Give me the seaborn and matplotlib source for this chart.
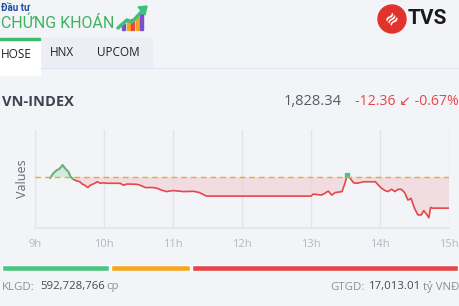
import numpy as np
import pandas as pd
import matplotlib
matplotlib.use("Agg")
import matplotlib.pyplot as plt
import matplotlib.patches as mpatches
import seaborn as sns

# intraday VN-INDEX, minutes after 9:00
minutes = [13, 16, 19, 21, 24, 26, 29, 31, 33, 36, 39, 41, 43, 46, 48, 52, 54, 57, 59, 62,
           74, 77, 80, 88, 91, 96, 103, 106, 110, 114, 120, 129, 138, 143, 149, 170,
           240, 242, 249, 252, 255, 258, 261, 267, 269.5, 271.6, 274, 277, 280, 286, 291,
           296, 298.5, 301.4, 304.3, 307, 310, 313, 315.6, 318.5, 321.4, 324.3, 327, 330,
           333, 336, 338, 340, 342.5, 344, 345.5, 360]
values = [1840.2, 1842.2, 1843.5, 1843.8, 1845.5, 1844.2, 1842.8, 1840.8, 1839.8, 1839.2,
          1838.8, 1837.9, 1837.5, 1836.5, 1837.4, 1838.2, 1838.8, 1838.2, 1838.4, 1838.2,
          1838.2, 1837.4, 1837.9, 1837.8, 1837.5, 1836.5, 1836.5, 1836.2, 1835.5, 1834.9,
          1835.3, 1834.9, 1835.0, 1834.5, 1833.1, 1833.1,
          1833.1, 1833.9, 1833.5, 1834.2, 1835.1, 1833.5, 1834.5, 1834.9, 1838.2, 1841.5,
          1840.2, 1838.4, 1838.2, 1838.8, 1838.8, 1838.8, 1837.5, 1836.2, 1835.3, 1834.9,
          1835.8, 1834.9, 1835.8, 1835.8, 1834.5, 1831.5, 1832.2, 1828.2, 1825.6, 1825.6,
          1827.3, 1826.2, 1824.5, 1828.6, 1828.3, 1828.3]
ref_close = 1840.70
hour_ticks = ["9h", "10h", "11h", "12h", "13h", "14h", "15h"]
breadth = [109, 80, 267]          # up / unchanged / down (bar widths)
breadth_colors = ["#4cc483", "#f5a623", "#e5474b"]

BG = "#f3f4f8"
df = pd.DataFrame({"t": np.array(minutes) / 60 + 9, "v": values})

sns.set_theme(style="whitegrid")
plt.rcParams["font.family"] = ["Open Sans", "DejaVu Sans"]

fig = plt.figure(figsize=(4.6, 3.06), dpi=100, facecolor=BG)

# ---- header ----
fig.patches.append(mpatches.Rectangle((0, 1 - 68 / 306), 152 / 460, 30 / 306,
                                      transform=fig.transFigure, color="#eceef3", zorder=0))
fig.patches.append(mpatches.Rectangle((0, 1 - 75 / 306), 40 / 460, 37 / 306,
                                      transform=fig.transFigure, color="white", zorder=1))
fig.patches.append(mpatches.Rectangle((0, 1 - 40 / 306), 40 / 460, 2 / 306,
                                      transform=fig.transFigure, color="#3dbb6f", zorder=2))
fig.lines.append(plt.Line2D([40 / 460, 1], [1 - 68 / 306] * 2, transform=fig.transFigure,
                            color="#dce8f8", lw=0.8))
fig.text(1 / 460, 1 - 8 / 306, "Đầu tư", color="#1d4f9c", fontsize=7, fontweight="bold",
         va="center", ha="left", family=["Roboto", "DejaVu Sans"])
fig.text(1 / 460, 1 - 23 / 306, "CHỨNG KHOÁN", color="#3cb35f", fontsize=11.5,
         va="center", ha="left", family=["Roboto", "DejaVu Sans"])
# small bar-chart logo
for i, c in enumerate(["#7b4fc9", "#f5a623", "#e5474b", "#f5a623", "#7b4fc9"]):
    h = 6 + i * 2.5
    fig.patches.append(mpatches.Rectangle(((122 + i * 4.5) / 460, 1 - 30 / 306), 3 / 460, h / 306,
                                          transform=fig.transFigure, color=c))
fig.lines.append(plt.Line2D(np.array([118, 127, 132, 143]) / 460,
                            1 - np.array([28, 20, 22, 10]) / 306,
                            transform=fig.transFigure, color="#3cc07a", lw=2.5))
fig.patches.append(mpatches.Polygon([[138 / 460, 1 - 7 / 306], [147 / 460, 1 - 6 / 306],
                                     [145 / 460, 1 - 15 / 306]], closed=True,
                                    transform=fig.transFigure, color="#3cc07a"))
fig.text(1 / 460, 1 - 54 / 306, "HOSE", color="#222222", fontsize=8.5, va="center", ha="left", zorder=3)
fig.text(50 / 460, 1 - 52 / 306, "HNX", color="#222222", fontsize=8.5, va="center", ha="left")
fig.text(97 / 460, 1 - 52 / 306, "UPCOM", color="#222222", fontsize=8.5, va="center", ha="left")

# TVS logo
fig.patches.append(mpatches.Ellipse((392 / 460, 1 - 19 / 306), 28 / 460, 28 / 306,
                                    transform=fig.transFigure, color="#e1332b"))
fig.text(392 / 460, 1 - 19 / 306, "≋", color="white", fontsize=11, fontweight="bold",
         va="center", ha="center", rotation=45)
fig.text(408 / 460, 1 - 19 / 306, "TVS", color="#1a1a1a", fontsize=15, fontweight="bold",
         va="center", ha="left", family=["Roboto", "DejaVu Sans"])

fig.text(2 / 460, 1 - 102 / 306, "VN-INDEX", color="#3d4450", fontsize=10.5,
         fontweight="bold", va="center", ha="left")
fig.text(342 / 460, 1 - 102 / 306, "1,828.34", color="#555b66", fontsize=10.5,
         va="center", ha="right")
fig.text(459 / 460, 1 - 102 / 306, "-12.36 ↙ -0.67%", color="#e5474b", fontsize=10.2,
         va="center", ha="right", family=["Open Sans", "DejaVu Sans"])

# ---- chart ----
ax = fig.add_axes([35 / 460, 78 / 306, 414 / 460, 98 / 306])
ax.set_facecolor(BG)
t = df["t"].to_numpy()
v = df["v"].to_numpy()
ax.fill_between(t, v, ref_close, where=v <= ref_close, interpolate=True,
                color="#f1d0d6", alpha=0.65, lw=0)
ax.fill_between(t, v, ref_close, where=v >= ref_close, interpolate=True,
                color="#bfe8cf", alpha=0.65, lw=0)
sns.lineplot(data=df, x="t", y="v", ax=ax, color="#e5474b", lw=1.2)
# include crossing neighbours so the green segment joins the red one
mask = v >= ref_close
mask_ext = mask | np.roll(mask, 1) | np.roll(mask, -1)
green = df[mask_ext & (np.arange(len(v)) < 10)]
sns.lineplot(data=green, x="t", y="v", ax=ax, color="#4cc483", lw=1.2)
ax.plot(t[mask & (t > 13)], v[mask & (t > 13)], "s", color="#4cc483", ms=3)
ax.axhline(ref_close, color="#f5a623", lw=1, ls=(0, (4, 3)))

ax.set_xlim(9, 15)
ax.set_ylim(1820.4, 1859.4)
ax.set_xticks(range(9, 16))
ax.set_xticklabels(hour_ticks)
ax.set_yticks([])
ax.grid(axis="x", color="#e2e4ea", lw=1)
ax.grid(axis="y", visible=False)
for s in ["top", "right", "left"]:
    ax.spines[s].set_visible(False)
ax.spines["bottom"].set_color("#e2e4ea")
ax.tick_params(axis="x", colors="#b4b8c0", labelsize=8, length=0, pad=8)
ax.set_xlabel("")
ax.set_ylabel("Values", color="#666a72", fontsize=9, labelpad=4)

# ---- breadth bar ----
bax = fig.add_axes([2 / 460, (306 - 271) / 306, 458 / 460, 6 / 306])
bax.set_facecolor(BG)
left = 0
for w, c in zip(breadth, breadth_colors):
    bax.barh(0, w - 2, left=left, height=1, color=c)
    left += w
bax.set_xlim(0, sum(breadth))
bax.set_ylim(-0.5, 0.5)
bax.axis("off")

fig.text(2 / 460, 1 - 287 / 306, "KLGD:", color="#8a8f98", fontsize=8.2, va="center", ha="left")
fig.text(40 / 460, 1 - 287 / 306, "592,728,766", color="#444a55", fontsize=8.2, va="center", ha="left")
fig.text(106 / 460, 1 - 287 / 306, "cp", color="#8a8f98", fontsize=8.2, va="center", ha="left")
fig.text(330 / 460, 1 - 287 / 306, "GTGD:", color="#8a8f98", fontsize=8.2, va="center", ha="left")
fig.text(369 / 460, 1 - 287 / 306, "17,013.01", color="#444a55", fontsize=8.2, va="center", ha="left")
fig.text(423 / 460, 1 - 287 / 306, "tỷ VNĐ", color="#8a8f98", fontsize=8.2, va="center", ha="left")

fig.savefig("out.png", dpi=100, facecolor=BG)
